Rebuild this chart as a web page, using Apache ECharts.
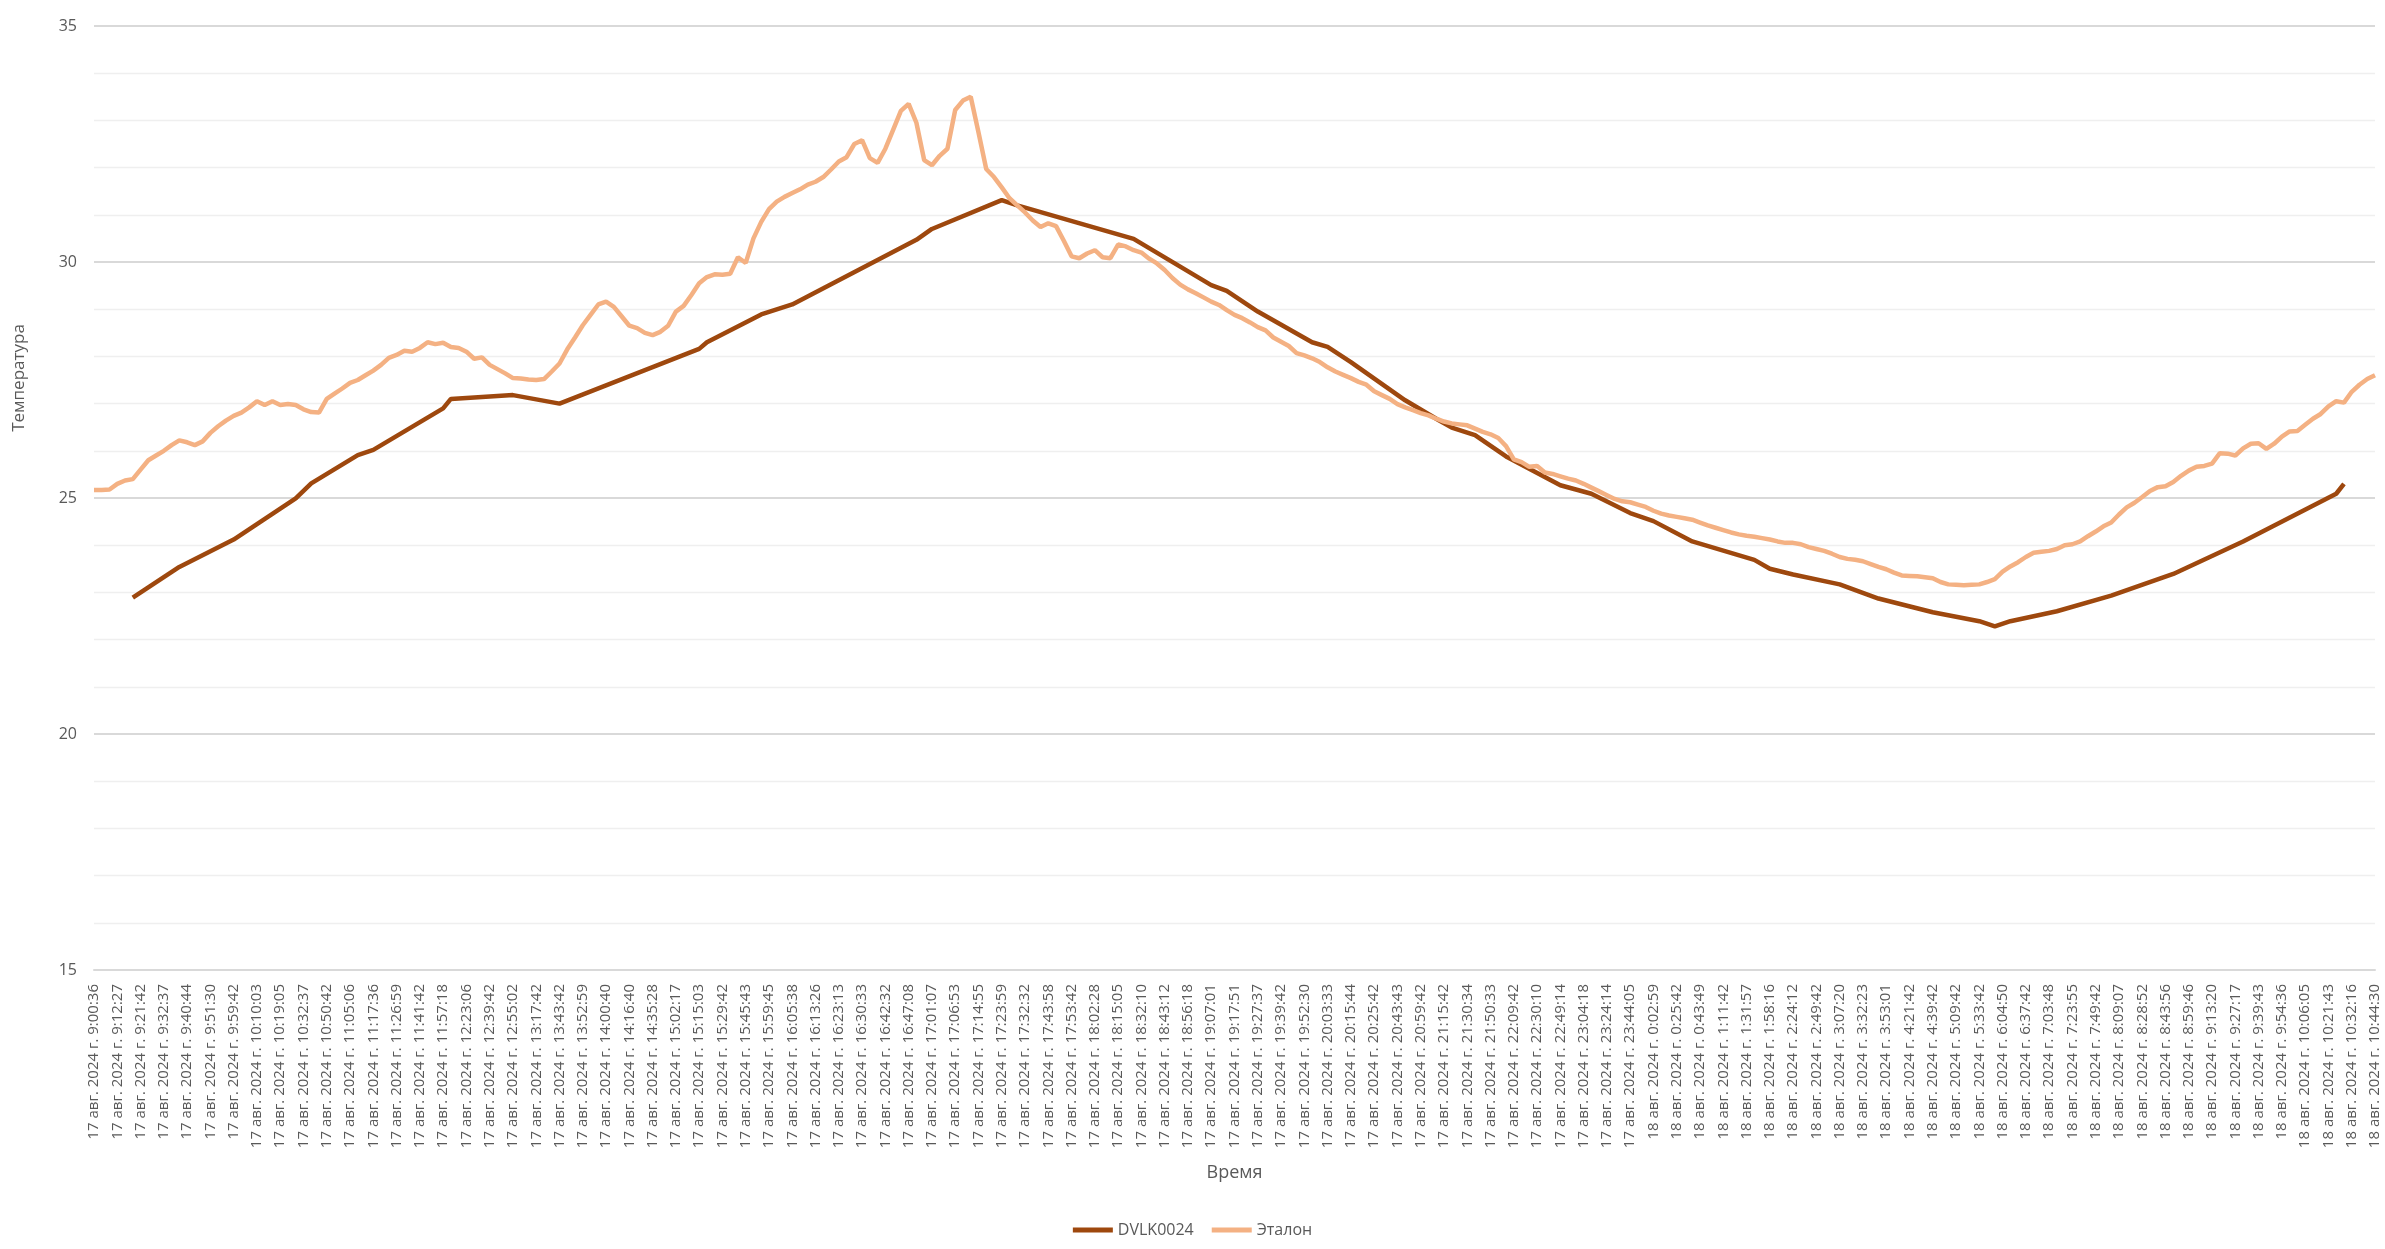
<!DOCTYPE html>
<html>
<head>
<meta charset="utf-8">
<script src="https://cdn.jsdelivr.net/npm/echarts@6/dist/echarts.min.js"></script>
<style>
html,body{margin:0;padding:0;background:#fff;}
#chart{width:2385px;height:1249px;}
</style>
</head>
<body>
<div id="chart"></div>
<script>
const tickLabels = [
"17 авг. 2024 г. 9:00:36","17 авг. 2024 г. 9:12:27","17 авг. 2024 г. 9:21:42","17 авг. 2024 г. 9:32:37","17 авг. 2024 г. 9:40:44",
"17 авг. 2024 г. 9:51:30","17 авг. 2024 г. 9:59:42","17 авг. 2024 г. 10:10:03","17 авг. 2024 г. 10:19:05","17 авг. 2024 г. 10:32:37",
"17 авг. 2024 г. 10:50:42","17 авг. 2024 г. 11:05:06","17 авг. 2024 г. 11:17:36","17 авг. 2024 г. 11:26:59","17 авг. 2024 г. 11:41:42",
"17 авг. 2024 г. 11:57:18","17 авг. 2024 г. 12:23:06","17 авг. 2024 г. 12:39:42","17 авг. 2024 г. 12:55:02","17 авг. 2024 г. 13:17:42",
"17 авг. 2024 г. 13:43:42","17 авг. 2024 г. 13:52:59","17 авг. 2024 г. 14:00:40","17 авг. 2024 г. 14:16:40","17 авг. 2024 г. 14:35:28",
"17 авг. 2024 г. 15:02:17","17 авг. 2024 г. 15:15:03","17 авг. 2024 г. 15:29:42","17 авг. 2024 г. 15:45:43","17 авг. 2024 г. 15:59:45",
"17 авг. 2024 г. 16:05:38","17 авг. 2024 г. 16:13:26","17 авг. 2024 г. 16:23:13","17 авг. 2024 г. 16:30:33","17 авг. 2024 г. 16:42:32",
"17 авг. 2024 г. 16:47:08","17 авг. 2024 г. 17:01:07","17 авг. 2024 г. 17:06:53","17 авг. 2024 г. 17:14:55","17 авг. 2024 г. 17:23:59",
"17 авг. 2024 г. 17:32:32","17 авг. 2024 г. 17:43:58","17 авг. 2024 г. 17:53:42","17 авг. 2024 г. 18:02:28","17 авг. 2024 г. 18:15:05",
"17 авг. 2024 г. 18:32:10","17 авг. 2024 г. 18:43:12","17 авг. 2024 г. 18:56:18","17 авг. 2024 г. 19:07:01","17 авг. 2024 г. 19:17:51",
"17 авг. 2024 г. 19:27:37","17 авг. 2024 г. 19:39:42","17 авг. 2024 г. 19:52:30","17 авг. 2024 г. 20:03:33","17 авг. 2024 г. 20:15:44",
"17 авг. 2024 г. 20:25:42","17 авг. 2024 г. 20:43:43","17 авг. 2024 г. 20:59:42","17 авг. 2024 г. 21:15:42","17 авг. 2024 г. 21:30:34",
"17 авг. 2024 г. 21:50:33","17 авг. 2024 г. 22:09:42","17 авг. 2024 г. 22:30:10","17 авг. 2024 г. 22:49:14","17 авг. 2024 г. 23:04:18",
"17 авг. 2024 г. 23:24:14","17 авг. 2024 г. 23:44:05","18 авг. 2024 г. 0:02:59","18 авг. 2024 г. 0:25:42","18 авг. 2024 г. 0:43:49",
"18 авг. 2024 г. 1:11:42","18 авг. 2024 г. 1:31:57","18 авг. 2024 г. 1:58:16","18 авг. 2024 г. 2:24:12","18 авг. 2024 г. 2:49:42",
"18 авг. 2024 г. 3:07:20","18 авг. 2024 г. 3:32:23","18 авг. 2024 г. 3:53:01","18 авг. 2024 г. 4:21:42","18 авг. 2024 г. 4:39:42",
"18 авг. 2024 г. 5:09:42","18 авг. 2024 г. 5:33:42","18 авг. 2024 г. 6:04:50","18 авг. 2024 г. 6:37:42","18 авг. 2024 г. 7:03:48",
"18 авг. 2024 г. 7:23:55","18 авг. 2024 г. 7:49:42","18 авг. 2024 г. 8:09:07","18 авг. 2024 г. 8:28:52","18 авг. 2024 г. 8:43:56",
"18 авг. 2024 г. 8:59:46","18 авг. 2024 г. 9:13:20","18 авг. 2024 г. 9:27:17","18 авг. 2024 г. 9:39:43","18 авг. 2024 г. 9:54:36",
"18 авг. 2024 г. 10:06:05","18 авг. 2024 г. 10:21:43","18 авг. 2024 г. 10:32:16","18 авг. 2024 г. 10:44:30"
];
// samples per labelled tick
const pointsPerTick = 3;

const etalonValues = [
25.17,25.17,25.18,25.30,25.37,25.40,25.60,25.80,25.90,26.00,
26.12,26.22,26.18,26.12,26.20,26.38,26.52,26.64,26.74,26.81,
26.92,27.05,26.97,27.05,26.97,26.99,26.97,26.88,26.82,26.81,
27.10,27.21,27.32,27.44,27.50,27.60,27.70,27.82,27.97,28.03,
28.12,28.10,28.18,28.30,28.26,28.29,28.20,28.18,28.10,27.95,
27.98,27.82,27.73,27.64,27.54,27.53,27.51,27.50,27.52,27.68,
27.85,28.15,28.40,28.66,28.88,29.10,29.16,29.05,28.85,28.65,
28.60,28.50,28.45,28.52,28.65,28.95,29.07,29.30,29.55,29.68,
29.74,29.73,29.75,30.10,29.98,30.50,30.85,31.12,31.28,31.38,
31.46,31.54,31.64,31.70,31.80,31.96,32.13,32.22,32.50,32.58,
32.20,32.10,32.40,32.80,33.20,33.35,32.95,32.16,32.05,32.25,
32.40,33.22,33.42,33.50,32.75,31.97,31.80,31.58,31.35,31.20,
31.05,30.88,30.74,30.82,30.76,30.45,30.12,30.08,30.18,30.25,
30.10,30.08,30.37,30.33,30.25,30.20,30.07,29.97,29.83,29.66,
29.52,29.42,29.34,29.25,29.16,29.09,28.98,28.88,28.81,28.72,
28.62,28.55,28.40,28.31,28.22,28.07,28.02,27.96,27.88,27.77,
27.68,27.61,27.54,27.46,27.40,27.26,27.18,27.10,26.99,26.92,
26.86,26.80,26.75,26.68,26.62,26.58,26.56,26.54,26.47,26.40,
26.35,26.27,26.10,25.82,25.76,25.66,25.68,25.54,25.51,25.46,
25.41,25.37,25.30,25.22,25.14,25.06,24.98,24.93,24.91,24.86,
24.81,24.73,24.67,24.63,24.60,24.57,24.54,24.48,24.42,24.37,
24.32,24.27,24.23,24.20,24.18,24.15,24.12,24.08,24.05,24.05,
24.02,23.96,23.92,23.88,23.82,23.75,23.71,23.69,23.66,23.60,
23.54,23.49,23.42,23.36,23.35,23.34,23.32,23.30,23.22,23.17,
23.16,23.15,23.16,23.17,23.22,23.28,23.44,23.55,23.64,23.75,
23.84,23.86,23.88,23.92,24.00,24.02,24.08,24.19,24.29,24.40,
24.48,24.65,24.80,24.90,25.02,25.15,25.23,25.25,25.34,25.47,
25.58,25.66,25.68,25.73,25.95,25.94,25.90,26.05,26.15,26.16,
26.04,26.15,26.30,26.41,26.42,26.55,26.68,26.78,26.94,27.05,
27.02,27.25,27.40,27.52,27.60
];

// DVLK0024 readings: sample index on the same axis and value
const dvlkIndex = [5,11,18,26,28,34,36,45,46,54,60,78,79,86,90,106,108,117,119,134,144,146,150,157,159,162,169,173,175,178,182,189,193,198,201,206,214,216,219,225,230,237,243,245,247,253,260,268,277,289,290];
const dvlkValues = [22.89,23.54,24.12,24.99,25.31,25.91,26.02,26.90,27.10,27.18,27.00,28.16,28.30,28.89,29.10,30.47,30.70,31.31,31.20,30.49,29.51,29.39,28.95,28.30,28.20,27.88,27.07,26.68,26.49,26.33,25.88,25.27,25.09,24.68,24.51,24.08,23.69,23.50,23.38,23.17,22.87,22.58,22.39,22.28,22.39,22.60,22.93,23.39,24.08,25.09,25.30];

const seriesNames = ["DVLK0024","Эталон"];
const yTicks = {min:15, max:35, step:5};

const font = "'Open Sans', 'Noto Sans', sans-serif";
const lastIndex = (tickLabels.length - 1) * pointsPerTick;

const chart = echarts.init(document.getElementById('chart'), null, {renderer:'canvas'});
chart.setOption({
  backgroundColor:'#ffffff',
  animation:false,
  textStyle:{fontFamily:font},
  grid:{left:94, right:10, top:26, bottom:279, containLabel:false},
  legend:{
    data:seriesNames,
    icon:'rect',
    left:'center', top:1217,
    itemWidth:40, itemHeight:5, itemGap:18,
    textStyle:{color:'#595959', fontSize:16, fontFamily:font}
  },
  xAxis:{
    type:'value', min:0, max:lastIndex, interval:pointsPerTick,
    name:'Время', nameLocation:'middle', nameGap:194,
    nameTextStyle:{color:'#595959', fontSize:18, fontFamily:font},
    axisLine:{show:true, lineStyle:{color:'#d9d9d9', width:2}},
    axisTick:{show:false},
    splitLine:{show:false},
    axisLabel:{
      rotate:90, margin:14, color:'#595959', fontSize:15, fontFamily:font,
      showMinLabel:true, showMaxLabel:true, hideOverlap:false,
      formatter:function(v){ return tickLabels[Math.round(v/pointsPerTick)] || ''; }
    }
  },
  yAxis:{
    type:'value', min:yTicks.min, max:yTicks.max, interval:yTicks.step,
    name:'Температура', nameLocation:'middle', nameGap:66,
    nameTextStyle:{color:'#595959', fontSize:17, fontFamily:font, padding:[0,0,0,240]},
    axisLine:{show:false}, axisTick:{show:false},
    axisLabel:{color:'#595959', fontSize:16, margin:17, fontFamily:font},
    splitLine:{show:true, lineStyle:{color:'#d9d9d9', width:2}},
    minorTick:{show:false, splitNumber:5},
    minorSplitLine:{show:true, lineStyle:{color:'#efefef', width:1.3}}
  },
  series:[
    {
      name:seriesNames[0], type:'line', symbol:'none', connectNulls:true,
      lineStyle:{color:'#9E480E', width:4.5}, itemStyle:{color:'#9E480E'},
      data:dvlkIndex.map((ix,k)=>[ix, dvlkValues[k]])
    },
    {
      name:seriesNames[1], type:'line', symbol:'none',
      lineStyle:{color:'#F4B183', width:4.5}, itemStyle:{color:'#F4B183'},
      data:etalonValues.map((v,i)=>[i, v])
    }
  ]
});
</script>
</body>
</html>
